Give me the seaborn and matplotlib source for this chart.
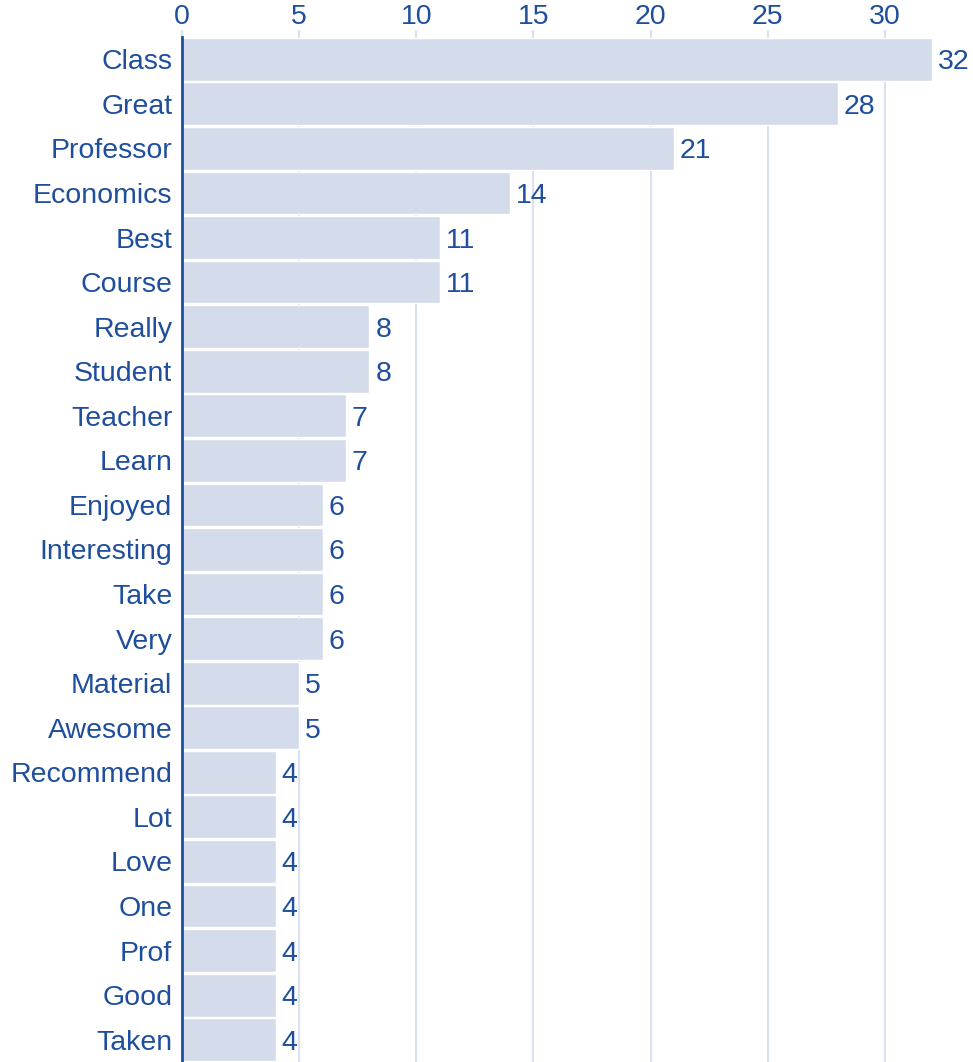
import matplotlib
matplotlib.use('Agg')
import matplotlib.pyplot as plt
import seaborn as sns
import pandas as pd

words = ['Class', 'Great', 'Professor', 'Economics', 'Best', 'Course', 'Really',
         'Student', 'Teacher', 'Learn', 'Enjoyed', 'Interesting', 'Take', 'Very',
         'Material', 'Awesome', 'Recommend', 'Lot', 'Love', 'One', 'Prof', 'Good',
         'Taken']
counts = [32, 28, 21, 14, 11, 11, 8, 8, 7, 7, 6, 6, 6, 6, 5, 5, 4, 4, 4, 4, 4, 4, 4]
x_ticks = [0, 5, 10, 15, 20, 25, 30]

df = pd.DataFrame({'word': words, 'count': counts})

text_color = '#1f4e9c'
bar_color = '#d4dbea'
grid_color = '#d9e0ee'

sns.set_theme(style='white')
plt.rcParams['font.family'] = ['Liberation Sans', 'DejaVu Sans']

fig = plt.figure(figsize=(9.73, 10.62), dpi=100)
ax = fig.add_axes([182 / 973, 0.0, (973 - 182) / 973, (1062 - 37) / 1062])

sns.barplot(data=df, x='count', y='word', color=bar_color, saturation=1,
            width=0.96, ax=ax, zorder=2)

ax.set_xlim(0, 33.76)
ax.set_ylim(len(words) - 0.5, -0.5)
ax.set_xticks(x_ticks)
ax.xaxis.tick_top()
ax.xaxis.set_label_position('top')
ax.set_xlabel('')
ax.set_ylabel('')
ax.grid(axis='x', color=grid_color, linewidth=1.5, zorder=0)
ax.set_axisbelow(True)

for s in ['top', 'right', 'bottom']:
    ax.spines[s].set_visible(False)
ax.spines['left'].set_color(text_color)
ax.spines['left'].set_linewidth(2)
ax.spines['left'].set_zorder(3)

ax.tick_params(axis='x', colors=text_color, labelsize=20.5, length=5, width=1.5,
               direction='out', pad=0)
ax.tick_params(axis='x', color=grid_color)
ax.tick_params(axis='y', colors=text_color, labelsize=20.5, length=0, pad=7)

for i, v in enumerate(counts):
    ax.text(v + 0.25, i, str(v), va='center_baseline', ha='left', color=text_color,
            fontsize=20.5)

fig.savefig('out.png', dpi=100)
